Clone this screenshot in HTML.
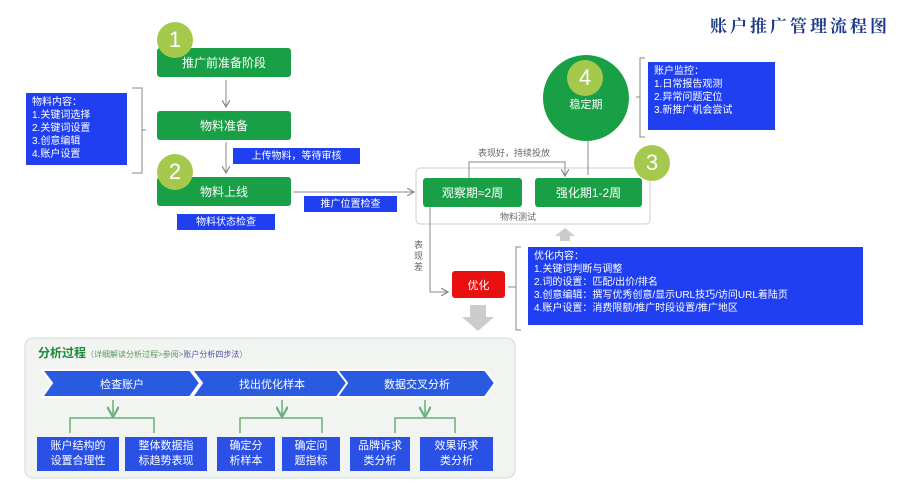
<!DOCTYPE html>
<html><head><meta charset="utf-8"><style>
body{margin:0;width:900px;height:500px;background:#fff;position:relative;overflow:hidden;font-family:"Liberation Sans","Noto Sans CJK SC",sans-serif}
.a{position:absolute;box-sizing:border-box}
.g{background:#19a046;color:#fff;font-size:12px;display:flex;align-items:center;justify-content:center;border-radius:3px}
.b{background:#1f3ff0;color:#fff;font-size:10px;line-height:13px;padding:3px 6px}
.bc{display:flex;align-items:center;justify-content:center}
.c{border-radius:50%;background:#a5c94c;color:#fff;font-size:22px;display:flex;align-items:center;justify-content:center}
.bb{background:#2a50e6;color:#fff;font-size:11px;line-height:15px;text-align:center;display:flex;align-items:center;justify-content:center}
</style></head><body>
<div class="a" style="left:680px;top:12px;width:210px;text-align:right;font-family:'Noto Serif CJK SC',serif;font-weight:bold;font-size:17px;color:#1c3a8a;letter-spacing:3px">账户推广管理流程图</div>

<svg class="a" style="left:0;top:0" width="900" height="500">
<defs><marker id="m" markerWidth="8" markerHeight="8" refX="7" refY="4" orient="auto"><path d="M0,0 L7,4 L0,8" fill="none" stroke="#888" stroke-width="1.2"/></marker>
<marker id="mg" markerWidth="8" markerHeight="8" refX="7" refY="4" orient="auto"><path d="M0,0 L7,4 L0,8" fill="none" stroke="#6ab07a" stroke-width="1.5"/></marker></defs>
<g stroke="#888" stroke-width="1" fill="none">
<line x1="226" y1="80" x2="226" y2="107" marker-end="url(#m)"/>
<line x1="226" y1="142" x2="226" y2="173" marker-end="url(#m)"/>
<line x1="293" y1="192" x2="414" y2="192" marker-end="url(#m)"/>
<path d="M132,88 h10 v85 h-10 M142,130 h4"/>
<rect x="416" y="168" width="234" height="56" rx="4" stroke="#ccc"/>
<path d="M469,178 V162 H565 V176" marker-end="url(#m)"/>
<line x1="588" y1="175" x2="588" y2="134" marker-end="url(#m)"/>
<path d="M645,58 h-5 v79 h5 M640,97 h-4"/>
<path d="M430,207 V292 H448" marker-end="url(#m)"/>
<path d="M521,247 h-5 v83 h5 M516,287 h-8"/>
</g>
<path d="M565,228 l10,8 h-5 v5 h-10 v-5 h-5z" fill="#ccc"/>
<path d="M470,305 h16 v12 h8 l-16,14 l-16,-14 h8z" fill="#ccc"/>
<rect x="25" y="338" width="490" height="140" rx="8" fill="#f1f4f1" stroke="#d6ddd6"/>
<g fill="#2a5ae0" stroke="#fff" stroke-width="2">
<polygon points="42,370 190,370 200,383 190,397 42,397 52,383"/>
<polygon points="192,370 340,370 350,383 340,397 192,397 202,383"/>
<polygon points="337,370 485,370 495,383 485,397 337,397 347,383"/>
</g>
<g stroke="#6ab07a" stroke-width="1.5" fill="none">
<line x1="113" y1="400" x2="113" y2="417" marker-end="url(#mg)"/>
<path d="M70,433 V418 H154 V433" />
<line x1="282" y1="400" x2="282" y2="417" marker-end="url(#mg)"/>
<path d="M240,433 V418 H322 V433"/>
<line x1="425" y1="400" x2="425" y2="417" marker-end="url(#mg)"/>
<path d="M395,433 V418 H455 V433"/>
</g>
</svg>

<div class="a g" style="left:157px;top:48px;width:134px;height:29px">推广前准备阶段</div>
<div class="a c" style="left:157px;top:22px;width:36px;height:36px">1</div>
<div class="a g" style="left:157px;top:111px;width:134px;height:29px">物料准备</div>
<div class="a b" style="left:26px;top:93px;width:101px;height:72px">物料内容：<br>1.关键词选择<br>2.关键词设置<br>3.创意编辑<br>4.账户设置</div>
<div class="a b bc" style="left:233px;top:148px;width:127px;height:16px;padding:0">上传物料，等待审核</div>
<div class="a g" style="left:157px;top:177px;width:134px;height:29px">物料上线</div>
<div class="a c" style="left:157px;top:154px;width:36px;height:36px">2</div>
<div class="a b bc" style="left:177px;top:214px;width:98px;height:16px;padding:0">物料状态检查</div>
<div class="a b bc" style="left:304px;top:196px;width:93px;height:16px;padding:0">推广位置检查</div>
<div class="a g" style="left:423px;top:178px;width:99px;height:29px">观察期≈2周</div>
<div class="a g" style="left:535px;top:178px;width:107px;height:29px">强化期1-2周</div>
<div class="a" style="left:500px;top:210px;font-size:9px;color:#666">物料测试</div>
<div class="a" style="left:478px;top:146px;font-size:9px;color:#666">表现好，持续投放</div>
<div class="a c" style="left:634px;top:145px;width:36px;height:36px">3</div>
<div class="a" style="left:543px;top:55px;width:86px;height:86px;border-radius:50%;background:#19a046"></div>
<div class="a c" style="left:567px;top:60px;width:36px;height:36px">4</div>
<div class="a" style="left:543px;top:96px;width:86px;text-align:center;color:#fff;font-size:11px">稳定期</div>
<div class="a b" style="left:648px;top:62px;width:127px;height:68px">账户监控：<br>1.日常报告观测<br>2.异常问题定位<br>3.新推广机会尝试</div>
<div class="a" style="left:414px;top:240px;width:10px;font-size:9px;line-height:11px;color:#666">表现差</div>
<div class="a bc" style="left:452px;top:271px;width:53px;height:27px;background:#e81010;color:#fff;font-size:11px;border-radius:3px">优化</div>
<div class="a b" style="left:528px;top:247px;width:335px;height:78px">优化内容：<br>1.关键词判断与调整<br>2.词的设置：匹配/出价/排名<br>3.创意编辑：撰写优秀创意/显示URL技巧/访问URL着陆页<br>4.账户设置：消费限额/推广时段设置/推广地区</div>
<div class="a" style="left:38px;top:344px;font-size:12px;color:#1a8a3a;white-space:nowrap"><b>分析过程</b><span style="font-size:8px;color:#5a9a5a">（详细解读分析过程&gt;参阅&gt;<span style="color:#5555aa">账户分析四步法</span>）</span></div>
<div class="a" style="left:52px;top:376px;width:140px;text-align:center;color:#fff;font-size:11px">检查账户</div>
<div class="a" style="left:202px;top:376px;width:140px;text-align:center;color:#fff;font-size:11px">找出优化样本</div>
<div class="a" style="left:347px;top:376px;width:140px;text-align:center;color:#fff;font-size:11px">数据交叉分析</div>
<div class="a bb" style="left:37px;top:437px;width:82px;height:34px">账户结构的<br>设置合理性</div>
<div class="a bb" style="left:125px;top:437px;width:82px;height:34px">整体数据指<br>标趋势表现</div>
<div class="a bb" style="left:217px;top:437px;width:58px;height:34px">确定分<br>析样本</div>
<div class="a bb" style="left:282px;top:437px;width:58px;height:34px">确定问<br>题指标</div>
<div class="a bb" style="left:350px;top:437px;width:60px;height:34px">品牌诉求<br>类分析</div>
<div class="a bb" style="left:420px;top:437px;width:73px;height:34px">效果诉求<br>类分析</div>
</body></html>
